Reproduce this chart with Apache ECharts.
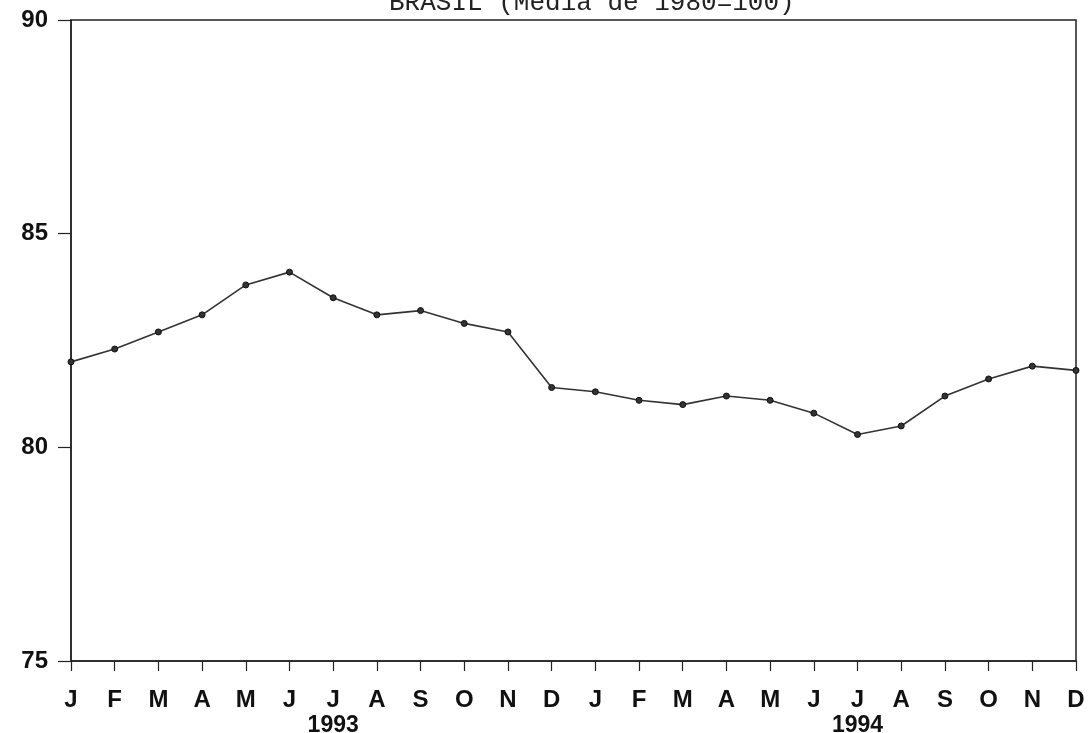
<!DOCTYPE html>
<html><head><meta charset="utf-8">
<script src="https://cdn.jsdelivr.net/npm/echarts@6/dist/echarts.min.js"></script>
<style>html,body{margin:0;padding:0;background:#fff}#c{width:1089px;height:733px}</style>
</head><body><div id="c"></div>
<script>
const months = ['J','F','M','A','M','J','J','A','S','O','N','D','J','F','M','A','M','J','J','A','S','O','N','D'];
const yearLabels = {6:'1993', 18:'1994'};
const values = [82.0,82.3,82.7,83.1,83.8,84.1,83.5,83.1,83.2,82.9,82.7,81.4,81.3,81.1,81.0,81.2,81.1,80.8,80.3,80.5,81.2,81.6,81.9,81.8];
const yTicks = [75,80,85,90];
const titleText = 'BRASIL (Média de 1980=100)';

const chart = echarts.init(document.getElementById('c'));
chart.setOption({
  animation:false,
  backgroundColor:'#fff',
  title:{text:titleText,left:384,top:-15,textStyle:{fontFamily:'Liberation Mono',fontWeight:'normal',fontSize:26,color:'#222'}},
  grid:{left:71,right:13,top:20,bottom:72,outerBoundsMode:'none',containLabel:false,show:true,borderColor:'#222',borderWidth:1.5,backgroundColor:'transparent'},
  xAxis:{type:'category',data:months,boundaryGap:false,
    axisLine:{lineStyle:{color:'#222',width:1.5}},
    axisTick:{show:true,inside:false,length:10,alignWithLabel:true,interval:0,lineStyle:{color:'#222',width:1.2}},
    axisLabel:{interval:0,margin:27,color:'#111',
      formatter:(v,i)=> yearLabels[i] ? '{m|'+v+'}\n{y|'+yearLabels[i]+'}' : '{m|'+v+'}',
      rich:{m:{fontFamily:'Liberation Sans',fontWeight:'bold',fontSize:24,lineHeight:24,color:'#111'},
            y:{fontFamily:'Liberation Sans',fontWeight:'bold',fontSize:23,lineHeight:28,color:'#111'}}},
    splitLine:{show:false}},
  yAxis:{type:'value',min:75,max:90,interval:5,
    axisLine:{show:true,lineStyle:{color:'#222',width:1.5}},
    axisTick:{show:true,length:13,lineStyle:{color:'#222',width:1.2}},
    axisLabel:{margin:23,color:'#111',fontFamily:'Liberation Sans',fontWeight:'bold',fontSize:24,
      formatter:v=> yTicks.includes(v)? String(v):''},
    splitLine:{show:false}},
  series:[{type:'line',data:values,symbol:'circle',symbolSize:6,
    itemStyle:{color:'#333',borderColor:'#111',borderWidth:1},
    lineStyle:{color:'#333',width:1.6}}]
});
</script></body></html>
